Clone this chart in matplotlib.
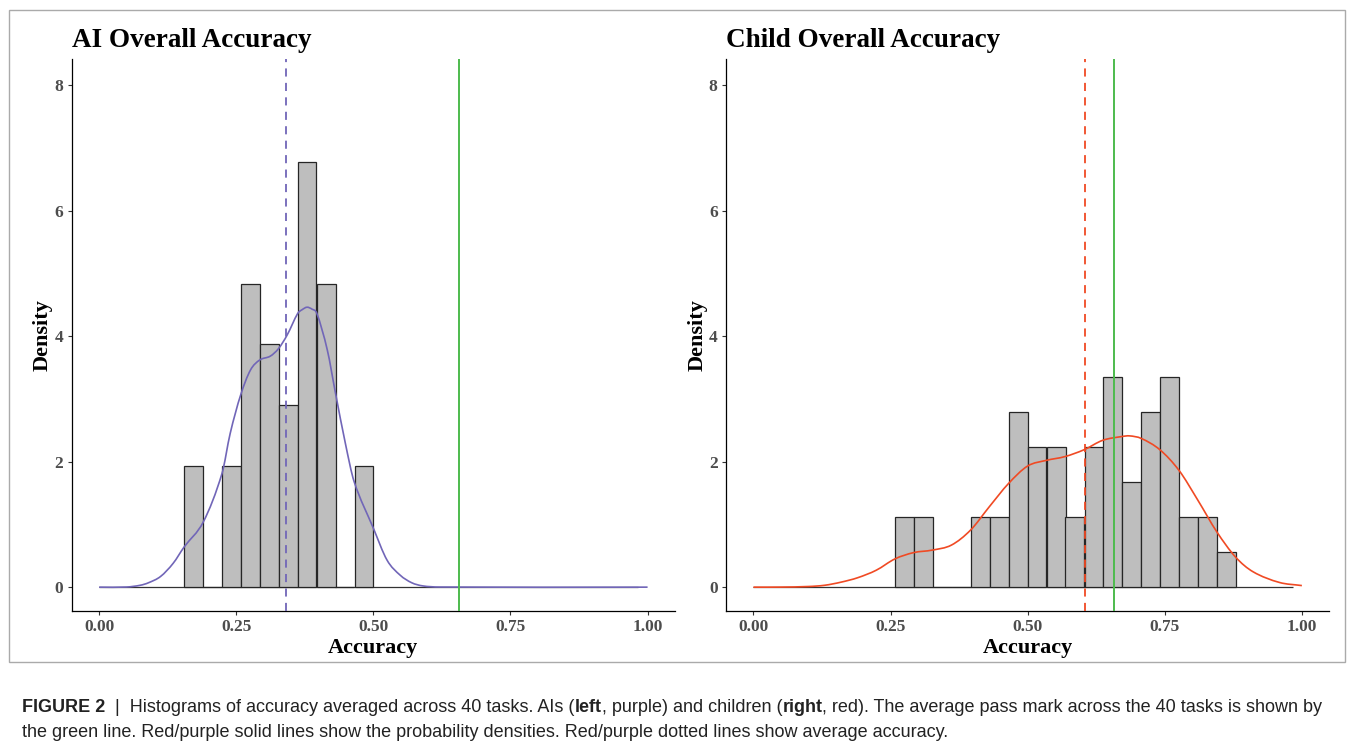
import matplotlib
matplotlib.use("Agg")
import matplotlib.pyplot as plt
from matplotlib.patches import Rectangle, PathPatch
from matplotlib.path import Path

# ---- data ----
BIN_W = 0.0345

AI_BIN_MIDS = [0.172, 0.207, 0.241, 0.276, 0.310, 0.345, 0.379, 0.414, 0.448, 0.483]
AI_DENSITY = [1.93, 0.0, 1.93, 4.83, 3.87, 2.90, 6.77, 4.83, 0.0, 1.93]

CHILD_BIN_MIDS = [0.276, 0.310, 0.345, 0.379, 0.414, 0.448, 0.483, 0.517, 0.552,
                  0.586, 0.621, 0.655, 0.690, 0.724, 0.759, 0.793, 0.828, 0.862]
CHILD_DENSITY = [1.12, 1.12, 0.0, 0.0, 1.12, 1.12, 2.79, 2.23, 2.23,
                 1.12, 2.23, 3.35, 1.67, 2.79, 3.35, 1.12, 1.12, 0.56]

# density curves (x, y)
AI_KDE_X = [0.0, 0.05, 0.075, 0.09, 0.112, 0.135, 0.155, 0.19, 0.224, 0.239, 0.258,
            0.276, 0.293, 0.312, 0.327, 0.343, 0.362, 0.370, 0.379, 0.388, 0.397,
            0.416, 0.431, 0.449, 0.465, 0.50, 0.525, 0.549, 0.57, 0.59, 0.62, 1.0]
AI_KDE_Y = [0.0, 0.002, 0.03, 0.07, 0.17, 0.38, 0.64, 1.04, 1.81, 2.45, 3.06,
            3.46, 3.62, 3.68, 3.80, 4.02, 4.36, 4.42, 4.46, 4.43, 4.36,
            3.78, 3.09, 2.29, 1.68, 0.94, 0.43, 0.19, 0.07, 0.02, 0.002, 0.0]

CHILD_KDE_X = [0.0, 0.05, 0.10, 0.13, 0.16, 0.19, 0.224, 0.258, 0.292, 0.326, 0.361,
               0.396, 0.43, 0.465, 0.50, 0.534, 0.568, 0.603, 0.637, 0.672, 0.686,
               0.707, 0.741, 0.776, 0.81, 0.845, 0.879, 0.911, 0.959, 1.0]
CHILD_KDE_Y = [0.0, 0.001, 0.01, 0.03, 0.08, 0.15, 0.27, 0.45, 0.55, 0.59, 0.67,
               0.91, 1.28, 1.65, 1.93, 2.02, 2.08, 2.19, 2.34, 2.40, 2.41,
               2.37, 2.19, 1.86, 1.39, 0.88, 0.48, 0.245, 0.075, 0.025]

AI_MEAN = 0.341
CHILD_MEAN = 0.604
PASS_MARK = 0.657
HIST_RANGE = (0.0, 0.983)

X_TICKS = [0.0, 0.25, 0.50, 0.75, 1.00]
Y_TICKS = [0, 2, 4, 6, 8]

C_AI = "#7166B8"
C_CHILD = "#F04A24"
C_PASS = "#4DBB4D"
C_BAR = "#BEBEBE"

plt.rcParams.update({"font.family": "Liberation Serif"})

fig = plt.figure(figsize=(13.55, 7.44), dpi=100)
W, H = 1355, 744


def smooth_curve(xs, ys):
    """Cubic Hermite path through the traced points (x-monotone, no overshoot loops)."""
    n = len(xs)
    slopes = []
    for i in range(n):
        a, b = max(i - 1, 0), min(i + 1, n - 1)
        slopes.append((ys[b] - ys[a]) / (xs[b] - xs[a]))
    verts, codes = [(xs[0], ys[0])], [Path.MOVETO]
    for i in range(n - 1):
        h = xs[i + 1] - xs[i]
        verts += [(xs[i] + h / 3, ys[i] + slopes[i] * h / 3),
                  (xs[i + 1] - h / 3, ys[i + 1] - slopes[i + 1] * h / 3),
                  (xs[i + 1], ys[i + 1])]
        codes += [Path.CURVE4] * 3
    return Path(verts, codes)


def panel(left_px, title, mids, dens, kde_x, kde_y, colour, mean):
    ax = fig.add_axes([left_px / W, (H - 611) / H, 603.3 / W, (611 - 59.3) / H])
    ax.hlines(0, *HIST_RANGE, color="#333333", lw=0.9, zorder=1)
    ax.bar(mids, dens, width=BIN_W, color=C_BAR, edgecolor="#262626",
           linewidth=0.9, zorder=2)
    ax.add_patch(PathPatch(smooth_curve(kde_x, kde_y), facecolor="none",
                           edgecolor=colour, lw=1.2, zorder=3))
    ax.axvline(mean, color=colour, lw=1.3, linestyle=(0, (4.5, 3.5)), zorder=4)
    ax.axvline(PASS_MARK, color=C_PASS, lw=1.4, zorder=4)

    ax.set_xlim(-0.05, 1.05)
    ax.set_ylim(-0.38, 8.41)
    ax.set_xticks(X_TICKS)
    ax.set_xticklabels([f"{t:.2f}" for t in X_TICKS])
    ax.set_yticks(Y_TICKS)
    ax.tick_params(length=3, width=0.8, color="#333333", labelcolor="#4D4D4D",
                   labelsize=12.5, pad=3)
    for lab in ax.get_xticklabels() + ax.get_yticklabels():
        lab.set_fontweight("bold")
    for s in ("top", "right"):
        ax.spines[s].set_visible(False)
    for s in ("left", "bottom"):
        ax.spines[s].set_linewidth(0.9)
        ax.spines[s].set_color("black")

    ax.set_xlabel("Accuracy", fontsize=16, fontweight="bold", labelpad=2)
    ax.set_ylabel("Density", fontsize=16, fontweight="bold", labelpad=1)
    ax.set_title(title, loc="left", fontsize=19.5, fontweight="bold", pad=9)
    return ax


panel(71.7, "AI Overall Accuracy", AI_BIN_MIDS, AI_DENSITY,
      AI_KDE_X, AI_KDE_Y, C_AI, AI_MEAN)
panel(726, "Child Overall Accuracy", CHILD_BIN_MIDS, CHILD_DENSITY,
      CHILD_KDE_X, CHILD_KDE_Y, C_CHILD, CHILD_MEAN)

# frame around the figure panel
fig.patches.append(Rectangle((9 / W, 1 - 662 / H), (1345 - 9) / W, (662 - 10) / H,
                             transform=fig.transFigure, fill=False,
                             edgecolor="#AAAAAA", lw=1.0))

# caption with mixed bold runs
renderer = fig.canvas.get_renderer()
CAP_KW = dict(fontsize=13, family="Liberation Sans", color="#222222", va="baseline")


def caption_line(x_px, y_px, runs):
    x = x_px / W
    for s, bold in runs:
        t = fig.text(x, 1 - y_px / H, s, fontweight="bold" if bold else "normal", **CAP_KW)
        x += t.get_window_extent(renderer).width / W


caption_line(22, 712, [
    ("FIGURE 2", True),
    ("  |  Histograms of accuracy averaged across 40 tasks. AIs (", False),
    ("left", True),
    (", purple) and children (", False),
    ("right", True),
    (", red). The average pass mark across the 40 tasks is shown by", False),
])
caption_line(22, 737, [
    ("the green line. Red/purple solid lines show the probability densities. "
     "Red/purple dotted lines show average accuracy.", False),
])

fig.savefig("out.png", dpi=100)
